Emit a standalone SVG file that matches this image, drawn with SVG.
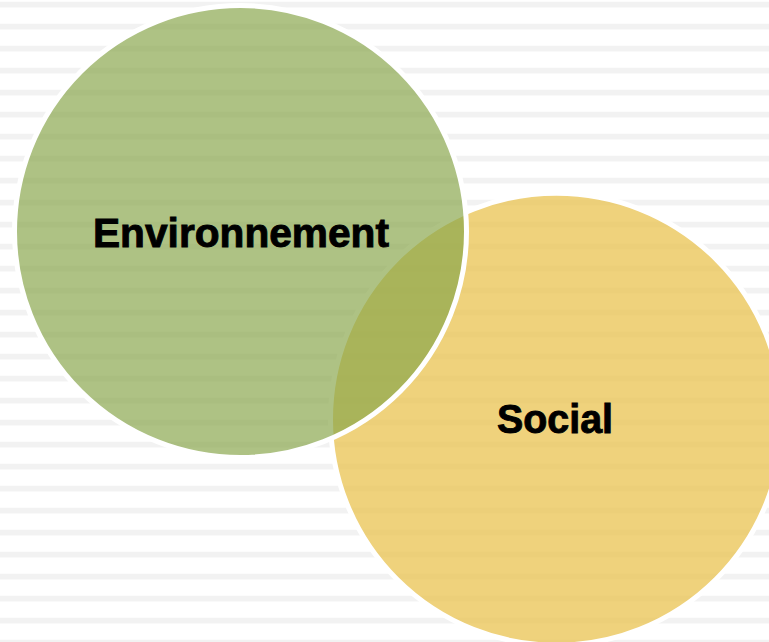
<svg xmlns="http://www.w3.org/2000/svg" width="769" height="642" viewBox="0 0 769 642">
  <defs>
    <pattern id="stripes" patternUnits="userSpaceOnUse" x="0" y="0" width="769" height="22">
      <rect x="0" y="1.8" width="769" height="5.6" fill="#000" fill-opacity="0.05"/>
    </pattern>
  </defs>
  <style>
    .circle { stroke: #ffffff; stroke-width: 5; }
    .label { font-family: "Liberation Sans", Arial, sans-serif; font-weight: bold; font-size: 40px; fill: #000000; stroke: #000000; stroke-width: 0.9; }
  </style>
  <rect x="0" y="0" width="769" height="642" fill="#ffffff"/>
  <rect x="0" y="0" width="769" height="642" fill="url(#stripes)"/>
  <g id="social">
    <circle class="circle" cx="556.5" cy="419.2" r="226" fill="#eac350" fill-opacity="0.75"/>
  </g>
  <g id="environnement">
    <circle class="circle" cx="240.5" cy="231.5" r="226" fill="#88a549" fill-opacity="0.68"/>
  </g>
  <g id="labels">
    <text class="label" x="93" y="247" textLength="296" lengthAdjust="spacingAndGlyphs">Environnement</text>
    <text class="label" x="497" y="433" textLength="116" lengthAdjust="spacingAndGlyphs">Social</text>
  </g>
</svg>
